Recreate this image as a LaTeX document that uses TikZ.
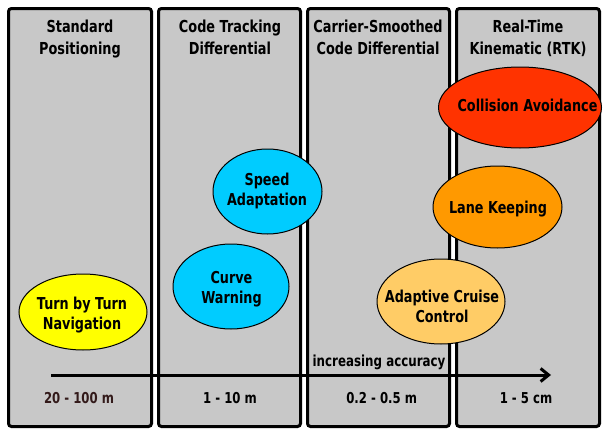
\documentclass[tikz,border=0pt]{standalone}
\usepackage{fontspec}
\setmainfont{DejaVu Sans}[FakeStretch=0.78]
\usetikzlibrary{arrows.meta}
\definecolor{panelgray}{HTML}{C8C8C8}
\definecolor{appyellow}{HTML}{FFFF00}
\definecolor{appcyan}{HTML}{00CCFF}
\definecolor{appred}{HTML}{FF3300}
\definecolor{apporange}{HTML}{FF9900}
\definecolor{applight}{HTML}{FFCC66}
\definecolor{darkbrown}{HTML}{331A1A}

\begin{document}
\begin{tikzpicture}[x=1pt,y=-1pt,
  panel/.style={draw,line width=3pt,fill=panelgray,rounded corners=3pt},
  head/.style={anchor=north,inner sep=0pt,align=center,font=\fontsize{16.5}{21.5}\selectfont\bfseries},
  app/.style={draw,line width=1pt},
  apptext/.style={anchor=north,inner sep=0pt,align=center,font=\fontsize{16.4}{20}\selectfont\bfseries},
  rangetext/.style={anchor=base,inner sep=0pt,font=\fontsize{15}{17}\selectfont\bfseries}]
\useasboundingbox (0,0) rectangle (603,431);

% the four accuracy classes
\draw[panel] (8.5,8.5) rectangle (151.5,426.5);
\draw[panel] (158.5,8.5) rectangle (300.5,426.5);
\draw[panel] (307.5,8.5) rectangle (449.5,426.5);
\draw[panel] (456.5,8.5) rectangle (599.5,426.5);

\node[head] (std) at (80,20.2) {Standard\\Positioning};
\node[head] (ctd) at (230,20.2) {Code Tracking\\Differential};
\node[head] (csd) at (378,20.2) {Carrier-Smoothed\\Code Differential};
\node[head] (rtk) at (528,20.2) {Real-Time\\Kinematic (RTK)};

% applications
\draw[app, fill=appyellow] (83,312) ellipse [x radius=64, y radius=38];
\node[apptext] (turn) at (82,296.8) {Turn by Turn\\Navigation};

\draw[app, fill=appcyan] (231,286.5) ellipse [x radius=58, y radius=42.5];
\node[apptext] (curve) at (231.5,270.8) {Curve\\Warning};

\draw[app, fill=appcyan] (267.5,191.5) ellipse [x radius=54.5, y radius=42.5];
\node[apptext] (speed) at (267,172.4) {Speed\\Adaptation};

\draw[app, fill=appred] (520,107.5) ellipse [x radius=81.5, y radius=40.5];
\node[apptext] (collision) at (527.5,99.1) {Collision Avoidance};

\draw[app, fill=apporange] (497.5,207) ellipse [x radius=64.5, y radius=41];
\node[apptext] (lane) at (498,200.8) {Lane Keeping};

\draw[app, fill=applight] (441,301.5) ellipse [x radius=64, y radius=42.5];
\node[apptext] (acc) at (442,290.1) {Adaptive Cruise\\Control};

% accuracy axis
\coordinate (from) at (51,375);
\coordinate (to) at (551,375);
\draw[line width=3pt, -{Straight Barb[length=8pt,width=13pt]}] (from) -- (to);
\node[rangetext, font=\fontsize{15.2}{17}\selectfont\bfseries] (incr) at (379,366.7) {increasing accuracy};

\node[rangetext, text=darkbrown] (r1) at (79,403.3) {20 - 100 m};
\node[rangetext] (r2) at (230,403.3) {1 - 10 m};
\node[rangetext] (r3) at (381.7,403.3) {0.2 - 0.5 m};
\node[rangetext] (r4) at (526,403.3) {1 - 5 cm};
\end{tikzpicture}
\end{document}
